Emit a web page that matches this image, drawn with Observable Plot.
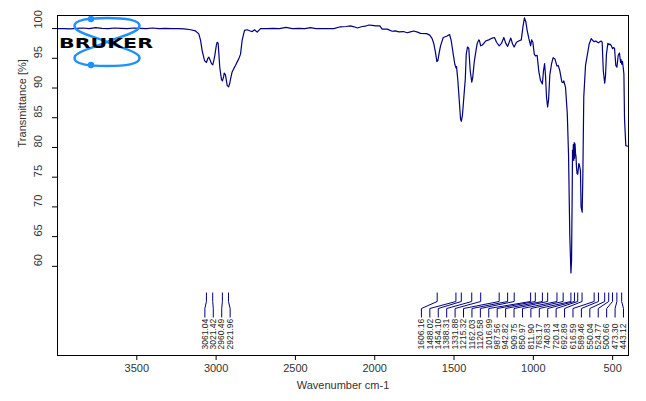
<!DOCTYPE html>
<html>
<head>
<meta charset="utf-8">
<script src="https://cdn.jsdelivr.net/npm/d3@7"></script>
<script src="https://cdn.jsdelivr.net/npm/@observablehq/plot@0.6"></script>
<style>
  html, body { margin: 0; padding: 0; background: #fff; }
  #wrap { position: relative; width: 646px; height: 401px; }
  #wrap svg { display: block; }
  #logo { position: absolute; left: 0; top: 0; pointer-events: none; }
</style>
</head>
<body>
<div id="wrap"></div>
<script>
// ---- data ----
const wavenumbers = [4000,3960,3920,3880,3840,3800,3760,3720,3680,3640,3600,3560,3520,3480,3440,3400,3360,3320,3280,3240,3200,3161,3130,3109,3098,3088,3073,3061,3052,3046,3036,3029,3021,3013,3008,2998,2993,2987,2977,2966,2960,2952,2949,2941,2930,2921,2914,2909,2899,2888,2878,2867,2857,2846,2836,2821,2804,2785,2772,2758,2741,2720,2680,2640,2600,2560,2520,2480,2440,2405,2370,2342,2300,2258,2216,2180,2153,2130,2110,2079,2060,2037,2015,1995,1968,1953,1921,1890,1870,1848,1820,1795,1775,1754,1730,1711,1673,1653,1638,1627,1617,1608,1602,1593,1585,1568,1547,1528,1518,1505,1495,1488,1484,1476,1467,1459,1454,1447,1438,1429,1423,1415,1407,1398,1388,1382,1373,1365,1354,1344,1340,1332,1324,1316,1301,1281,1259,1245,1232,1215,1201,1186,1175,1162,1152,1142,1131,1121,1106,1092,1076,1066,1056,1047,1039,1028,1017,1011,1003,994,987,976,965,955,943,936,929,923,917,910,904,896,885,875,864,851,843,833,820,812,808,797,786,778,770,763,759,755,753,750,748,745,742,740,737,734,731,728,724,720,713,709,703,699,692,688,682,671,660,648,635,622,616,608,600,589,580,572,566,559,550,545,539,530,524,518,510,500,495,488,480,473,465,457,450,447,443,438,429,425,417,404,400];
const transmittance = [100.0,100.0,99.95,100.05,100.1,100.0,100.15,100.05,100.0,100.1,100.05,100.0,100.1,100.05,100.0,100.1,100.0,100.05,100.0,100.0,99.95,99.8,99.6,99.1,98.0,96.3,94.6,94.3,95.0,95.2,94.6,94.1,93.9,94.8,95.5,97.3,97.7,97.5,93.5,91.4,91.2,92.0,92.5,92.2,90.4,90.2,90.8,91.5,92.7,93.3,93.8,94.4,94.9,95.7,98.0,99.7,99.8,99.6,99.5,99.8,99.4,100.0,100.0,100.05,100.0,100.2,100.0,100.05,100.0,100.15,100.0,100.0,100.0,100.0,100.3,100.35,100.45,100.3,100.1,100.35,100.4,100.6,100.55,100.45,100.45,99.9,99.9,99.55,99.6,99.45,99.5,99.3,99.45,99.6,99.4,99.2,99.15,98.9,98.3,97.4,96.0,94.45,94.6,96.0,97.1,98.5,98.7,99.0,98.0,95.7,94.0,93.4,93.6,91.3,87.9,84.8,84.4,85.4,88.5,91.5,95.7,96.9,96.7,92.9,91.0,91.8,94.3,95.7,97.5,98.1,98.0,97.1,97.2,97.4,97.9,98.1,98.4,98.5,97.7,97.1,97.5,98.5,97.6,97.0,97.7,98.4,97.4,96.9,97.7,97.9,98.1,100.2,101.8,101.1,99.7,98.3,97.1,98.1,97.7,95.7,95.4,95.5,92.7,91.3,90.7,92.9,94.1,92.0,88.5,86.8,88.0,92.2,94.1,95.1,94.9,93.7,93.8,92.9,91.0,90.9,91.2,90.1,85.7,78.7,65.0,58.9,61.0,72.5,79.5,78.0,80.5,77.8,80.8,78.2,80.6,79.0,78.5,76.7,75.6,75.5,77.3,77.0,76.1,70.0,69.1,75.0,88.5,93.8,95.5,97.4,98.3,97.9,97.8,97.9,97.8,97.6,97.8,97.9,97.7,92.9,90.8,92.0,95.7,97.5,97.3,97.4,97.2,96.6,96.8,96.7,93.8,93.5,95.5,95.9,94.3,94.8,94.0,94.5,92.4,84.8,80.3,80.2,80.2];
const peakPositions = [3061.04,3021.42,2960.49,2921.96,1606.16,1488.02,1454.10,1388.31,1331.88,1215.32,1162.03,1120.58,1016.99,987.56,942.82,909.75,850.97,811.90,763.17,740.83,720.14,692.89,616.59,589.46,550.04,524.77,500.66,473.30,443.12];
const xTicks = [3500,3000,2500,2000,1500,1000,500];
const yTicks = [60,65,70,75,80,85,90,95,100];
const xDomain = [4000, 400];
const yDomain = [45, 102.2];
const xTitle = "Wavenumber cm-1";
const yTitle = "Transmittance [%]";

// ---- layout ----
const W = 646, H = 401;
const M = {left: 57, right: 18, top: 15, bottom: 46};
const pxPerUnit = (W - M.left - M.right) / Math.abs(xDomain[0] - xDomain[1]);
const gap = 8.42 / pxPerUnit;          // label spacing in data units
const edge = 5 / pxPerUnit;            // padding from frame edges
const lo = Math.min(...xDomain) + edge, hi = Math.max(...xDomain) - edge;

function layoutLabels(peaks) {
  const sorted = peaks.slice().sort((a, b) => b - a);
  let clusters = sorted.map(p => [p]);
  const span = c => {
    const n = c.length, m = d3.mean(c);
    let first = m + (n - 1) / 2 * gap, last = first - (n - 1) * gap;
    if (last < lo) { first += lo - last; last = lo; }
    if (first > hi) { last -= first - hi; first = hi; }
    return {first, last};
  };
  let merged = true;
  while (merged) {
    merged = false;
    for (let i = 0; i < clusters.length - 1; i++) {
      const a = span(clusters[i]), b = span(clusters[i + 1]);
      if (a.last - b.first < gap) {
        clusters.splice(i, 2, clusters[i].concat(clusters[i + 1]));
        merged = true; break;
      }
    }
  }
  return clusters.flatMap(c => {
    const {first} = span(c);
    return c.map((p, j) => ({peak: p, label: first - j * gap}));
  });
}
const labels = layoutLabels(peakPositions);
const spectrum = wavenumbers.map((w, i) => ({w, t: transmittance[i]}));

// vertical levels of the peak-label connectors (in % units)
const yv = py => yDomain[0] + (H - M.bottom - py) * (yDomain[1] - yDomain[0]) / (H - M.top - M.bottom);
const L = {top: yv(292), bend1: yv(301), bend2: yv(308), bottom: yv(317), text: yv(349)};

const navy = "#000080";
const chart = Plot.plot({
  width: W, height: H,
  marginLeft: M.left, marginRight: M.right, marginTop: M.top, marginBottom: M.bottom,
  style: {fontFamily: "'Liberation Sans', Arial, sans-serif", fontSize: "11px", color: "#000", background: "#fff"},
  x: {domain: xDomain, ticks: xTicks, tickSize: 5, tickFormat: () => "", label: null},
  y: {domain: yDomain, ticks: yTicks, tickSize: 5, tickFormat: () => "", label: null},
  marks: [
    Plot.line(spectrum, {x: "w", y: "t", stroke: navy, strokeWidth: 1.2}),
    Plot.link(labels, {x1: "peak", x2: "peak", y1: () => L.top, y2: () => L.bend1, stroke: navy, strokeWidth: 1}),
    Plot.link(labels, {x1: "peak", x2: "label", y1: () => L.bend1, y2: () => L.bend2, stroke: navy, strokeWidth: 1}),
    Plot.link(labels, {x1: "label", x2: "label", y1: () => L.bend2, y2: () => L.bottom, stroke: navy, strokeWidth: 1}),
    Plot.text(labels, {x: "label", y: () => L.text, text: d => d.peak.toFixed(2), rotate: -90, textAnchor: "start", fontSize: 8.5, fill: "#222"}),
    Plot.text(xTicks, {x: d => d, frameAnchor: "bottom", dy: 16, text: d => String(d), fill: "#333"}),
    Plot.text(yTicks, {y: d => d, frameAnchor: "left", dx: -19, rotate: -90, text: d => String(d), fill: "#333"}),
    Plot.text([xTitle], {frameAnchor: "bottom", dy: 33, text: d => d, fill: "#333"}),
    Plot.text([yTitle], {y: () => d3.mean(yTicks), frameAnchor: "left", dx: -35, rotate: -90, text: d => d, fill: "#333"}),
    Plot.frame({stroke: "#000", strokeWidth: 1})
  ]
});
const wrap = document.getElementById("wrap");
wrap.appendChild(chart);

// Bruker logo (decoration)
const ns = "http://www.w3.org/2000/svg";
const logo = document.createElementNS(ns, "svg");
logo.setAttribute("id", "logo");
logo.setAttribute("width", W); logo.setAttribute("height", H);
logo.innerHTML = `
  <g fill="none" stroke="#1e90ff" stroke-width="2.4">
    <path d="M107,42 C96,37 79,34 75,28 C71,19 92,18 107,18 C122,18 143,19 139,28 C135,34 118,37 107,42"/>
    <path d="M107,42 C96,47 79,50 75,56 C71,65 92,66 107,66 C122,66 143,65 139,56 C135,50 118,47 107,42"/>
  </g>
  <circle cx="91" cy="19" r="3.2" fill="#1e90ff"/>
  <circle cx="91" cy="65" r="3.2" fill="#1e90ff"/>
  <text x="59" y="47.5" font-family="'DejaVu Sans', Arial, sans-serif" font-weight="bold" font-size="14.5" textLength="94" lengthAdjust="spacingAndGlyphs" fill="#000">BRUKER</text>`;
wrap.appendChild(logo);
</script>
</body>
</html>
